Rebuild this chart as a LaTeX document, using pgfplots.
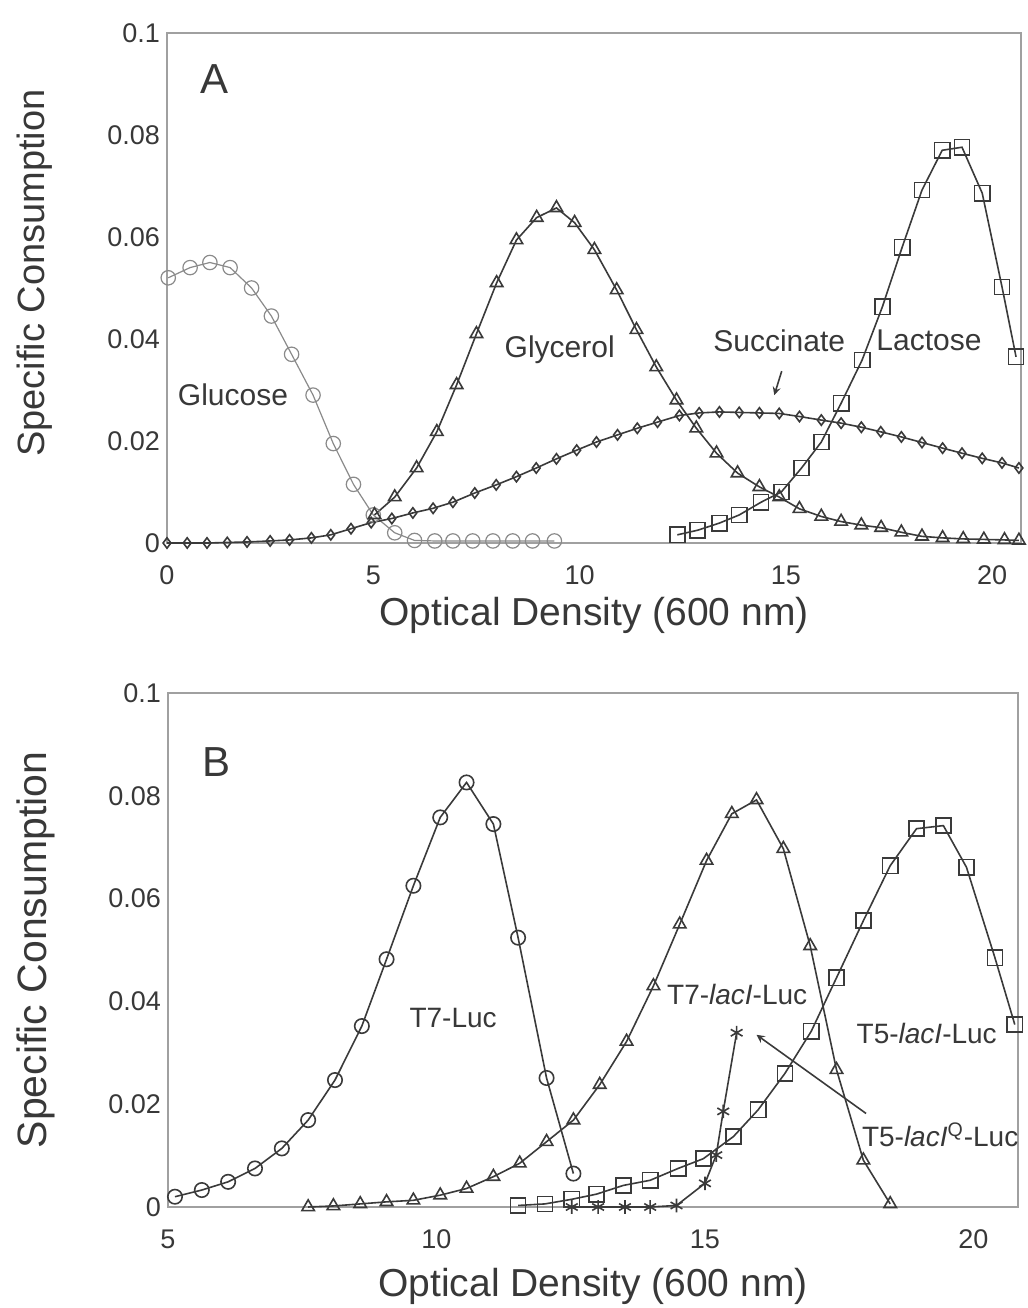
\documentclass[border=0pt]{standalone}
\usepackage{fontspec}
\setmainfont{Liberation Sans}
\usepackage{pgfplots}
\pgfplotsset{compat=1.18}
\definecolor{axgray}{HTML}{A0A0A0}
\definecolor{txt}{HTML}{383838}
\definecolor{ln}{HTML}{3A3A3A}
\definecolor{lnlight}{HTML}{8A8A8A}

\pgfplotstableread{
x y
0.03 0.052
0.56 0.054
1.04 0.055
1.53 0.054
2.05 0.050
2.53 0.0445
3.02 0.037
3.54 0.029
4.03 0.0195
4.52 0.0115
5.00 0.0055
5.52 0.002
6.00 0.0005
6.49 0.0004
6.93 0.0004
7.41 0.0004
7.90 0.0004
8.38 0.0004
8.86 0.0004
9.39 0.0004
}\glucose

\pgfplotstableread{
x y
0.00 0
0.49 0
0.97 0
1.46 0.0001
1.94 0.0002
2.50 0.0004
2.97 0.0006
3.50 0.0010
3.97 0.0016
4.46 0.0028
4.95 0.0040
5.45 0.0048
5.96 0.0059
6.45 0.0068
6.93 0.0080
7.46 0.0098
7.98 0.0114
8.47 0.0130
8.95 0.0147
9.44 0.0165
9.93 0.0182
10.41 0.0198
10.92 0.0212
11.40 0.0225
11.89 0.0237
12.42 0.0250
12.90 0.0255
13.39 0.0257
13.87 0.0256
14.36 0.0255
14.84 0.0254
15.33 0.0248
15.86 0.0241
16.34 0.0235
16.83 0.0227
17.30 0.0218
17.80 0.0208
18.30 0.0197
18.80 0.0186
19.27 0.0176
19.76 0.0166
20.24 0.0157
20.65 0.0147
}\succinate

\pgfplotstableread{
x y
5.03 0.0055
5.52 0.0090
6.05 0.0147
6.54 0.0218
7.02 0.0310
7.50 0.0410
7.99 0.0510
8.47 0.0594
8.96 0.0638
9.44 0.0657
9.88 0.0628
10.36 0.0575
10.90 0.0496
11.38 0.0418
11.86 0.0345
12.35 0.0280
12.83 0.0225
13.32 0.0176
13.83 0.0137
14.36 0.0110
14.84 0.0090
15.33 0.0067
15.86 0.0052
16.34 0.0042
16.83 0.0035
17.31 0.0030
17.80 0.0021
18.30 0.0013
18.80 0.0010
19.30 0.0008
19.80 0.0007
20.30 0.0006
20.65 0.0005
}\glycerol

\pgfplotstableread{
x y
12.37 0.0016
12.86 0.0025
13.39 0.0039
13.87 0.0055
14.40 0.0080
14.89 0.0100
15.38 0.0147
15.86 0.0198
16.34 0.0274
16.85 0.0359
17.34 0.0463
17.82 0.0580
18.30 0.0692
18.79 0.0770
19.27 0.0776
19.76 0.0686
20.24 0.0502
20.58 0.0365
}\lactose

\pgfplotstableread{
x y
5.13 0.0020
5.63 0.0033
6.12 0.0049
6.62 0.0075
7.12 0.0114
7.61 0.0169
8.11 0.0247
8.61 0.0352
9.07 0.0482
9.57 0.0625
10.07 0.0758
10.56 0.0826
11.06 0.0745
11.52 0.0524
12.05 0.0251
12.55 0.0065
}\tsevluc

\pgfplotstableread{
x y
7.61 0.0000
8.08 0.0002
8.58 0.0006
9.07 0.0010
9.57 0.0013
10.07 0.0023
10.56 0.0036
11.06 0.0059
11.55 0.0085
12.05 0.0127
12.55 0.0169
13.04 0.0238
13.54 0.0322
14.04 0.0430
14.53 0.0550
15.03 0.0674
15.50 0.0765
15.96 0.0792
16.46 0.0697
16.96 0.0508
17.45 0.0267
17.95 0.0091
18.45 0.0006
}\tsevlac

\pgfplotstableread{
x y
11.52 0.0003
12.02 0.0006
12.52 0.0015
12.98 0.0025
13.48 0.0042
13.98 0.0052
14.50 0.0075
14.97 0.0094
15.53 0.0137
15.99 0.0189
16.49 0.0260
16.98 0.0342
17.45 0.0446
17.95 0.0557
18.45 0.0664
18.94 0.0736
19.44 0.0742
19.87 0.0661
20.40 0.0485
20.77 0.0355
}\tfivelac

\pgfplotstableread{
x y
12.52 0
13.01 0
13.51 0
13.98 0
14.47 0.0003
15.00 0.0046
15.21 0.0101
15.34 0.0186
15.59 0.0339
}\tfivelacq

\pgfplotsset{
  myax/.style={
    scale only axis,
    clip=false,
    axis line style={axgray, line width=0.9pt},
    tick style={draw=none},
    ymin=0, ymax=0.1,
    ytick={0,0.02,0.04,0.06,0.08,0.1},
    yticklabels={0,0.02,0.04,0.06,0.08,0.1},
    /pgf/number format/assume math mode=true,
    ticklabel style={font=\fontsize{13.5}{15}\selectfont, text=txt},
    xticklabel style={yshift=-8pt},
    every axis plot/.append style={line width=0.8pt, color=ln},
  },
}
\tikzset{
  lab/.style={font=\fontsize{15}{17}\selectfont, text=txt},
  labB/.style={font=\fontsize{14}{16}\selectfont, text=txt},
}

\begin{document}
\begin{tikzpicture}
\path[use as bounding box] (0,0) rectangle (514pt,654pt);

% ---------------- Panel A ----------------
\begin{axis}[myax,
  at={(83.5pt,382.5pt)}, anchor=south west,
  width=427pt, height=255pt,
  xmin=0, xmax=20.7,
  xtick={0,5,10,15,20},
  xlabel={Optical Density (600 nm)},
  ylabel={Specific Consumption},
  xlabel style={at={([yshift=-36pt]axis description cs:0.5,0)}, anchor=center, font=\fontsize{19.5}{22}\selectfont, text=txt},
  ylabel style={at={([xshift=-66pt,yshift=7.5pt]axis description cs:0,0.5)}, anchor=center, font=\fontsize{19}{22}\selectfont, text=txt},
]
\addplot[color=lnlight, line width=0.6pt, mark=o, mark size=3.6pt, mark options={solid, draw=lnlight}] table {\glucose};
\addplot[mark=diamond, mark size=2.6pt, mark options={solid}] table {\succinate};
\addplot[mark=triangle, mark size=3.6pt, mark options={solid}] table {\glycerol};
\addplot[mark=square, mark size=3.8pt, mark options={solid}] table {\lactose};
\node[font=\fontsize{21}{23}\selectfont, text=txt] at (axis cs:1.16,0.091) {A};
\node[lab] at (axis cs:1.6,0.029) {Glucose};
\node[lab] at (axis cs:9.52,0.0378) {Glycerol};
\node[lab] at (axis cs:14.84,0.0396) {Succinate};
\node[lab] at (axis cs:18.47,0.0398) {Lactose};
\draw[-stealth, ln, line width=0.8pt] (axis cs:14.9,0.0337) -- (axis cs:14.72,0.0290);
\end{axis}

% ---------------- Panel B ----------------
\begin{axis}[myax,
  at={(84pt,50.5pt)}, anchor=south west,
  width=425pt, height=257pt,
  xmin=5, xmax=20.83,
  xtick={5,10,15,20},
  xlabel={Optical Density (600 nm)},
  ylabel={Specific Consumption},
  xlabel style={at={([yshift=-39.5pt]axis description cs:0.5,0)}, anchor=center, font=\fontsize{19.5}{22}\selectfont, text=txt},
  ylabel style={at={([xshift=-66pt]axis description cs:0,0.5)}, anchor=center, font=\fontsize{20.5}{23}\selectfont, text=txt},
]
\addplot[mark=o, mark size=3.6pt, mark options={solid}] table {\tsevluc};
\addplot[mark=triangle, mark size=3.6pt, mark options={solid}] table {\tsevlac};
\addplot[mark=square, mark size=3.8pt, mark options={solid}] table {\tfivelac};
\addplot[mark=asterisk, mark size=3.4pt, mark options={solid}] table {\tfivelacq};
\node[font=\fontsize{21}{23}\selectfont, text=txt] at (axis cs:5.91,0.0865) {B};
\node[labB] at (axis cs:10.31,0.0367) {T7-Luc};
\node[labB] at (axis cs:15.6,0.0414) {T7-\textit{lacI}-Luc};
\node[labB] at (axis cs:19.13,0.0338) {T5-\textit{lacI}-Luc};
\node[labB] at (axis cs:19.38,0.0141) {T5-\textit{lacI}\textsuperscript{Q}-Luc};
\draw[-stealth, ln, line width=0.8pt] (axis cs:18.0,0.0182) -- (axis cs:15.96,0.0335);
\end{axis}
\end{tikzpicture}
\end{document}
